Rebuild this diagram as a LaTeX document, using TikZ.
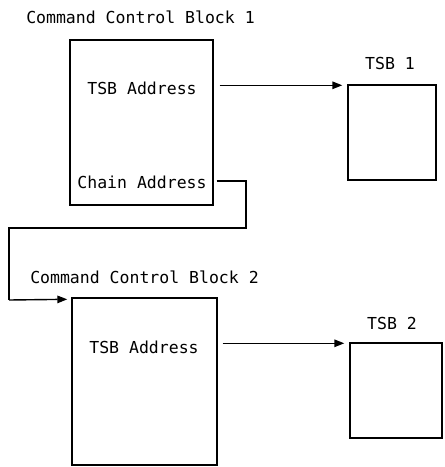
\documentclass[tikz,border=0pt]{standalone}
\usepackage{fontspec}
\setmonofont{DejaVu Sans Mono}
\usetikzlibrary{arrows.meta,calc}
\begin{document}
\begin{tikzpicture}[x=1pt,y=1pt,
  lbl/.style={font=\ttfamily\fontsize{16.5}{18}\selectfont, inner sep=0pt},
  blk/.style={draw, line width=1.4pt, inner sep=0pt},
  arr/.style={line width=1.4pt, -{Triangle[length=10pt,width=7.5pt]}},
  con/.style={line width=1.4pt}]
\useasboundingbox (0,0) rectangle (445,-467);
% boxes
\node[blk, minimum width=143pt, minimum height=165pt] (ccb1) at (141.5,-122.5) {};
\node[blk, minimum width=88pt, minimum height=95pt] (tsb1) at (392,-132.5) {};
\node[blk, minimum width=145pt, minimum height=167pt] (ccb2) at (144.5,-381.5) {};
\node[blk, minimum width=92pt, minimum height=95pt] (tsb2) at (396,-390.5) {};
% texts
\node[lbl] (t1) at (140.5,-17) {Command Control Block 1};
\node[lbl] (a1) at (142,-88) {TSB Address};
\node[lbl] (ch) at (142,-182) {Chain Address};
\node[lbl] (l1) at (390,-63) {TSB 1};
\node[lbl] (t2) at (144.5,-277) {Command Control Block 2};
\node[lbl] (a2) at (144,-347) {TSB Address};
\node[lbl] (l2) at (392,-323) {TSB 2};
% connectors
\coordinate (e1) at ($(tsb1.north west)+(-5,-1)$);
\draw[arr] ($(ccb1.east |- e1)+(6,0)$) -- (e1);
\coordinate (e2) at ($(tsb2.north west)+(-5,-1)$);
\draw[arr] ($(ccb2.east |- e2)+(5,0)$) -- (e2);
\coordinate (b1) at (246,-228);
\coordinate (b2) at (9,-300);
\coordinate (e3) at ($(ccb2.north west)+(-4,-2)$);
\draw[con] ($(ccb1.east |- 0,-181)+(3,0)$) -| (b1) -| (b2);
\draw[arr] (b2) -- (e3);
\end{tikzpicture}
\end{document}
